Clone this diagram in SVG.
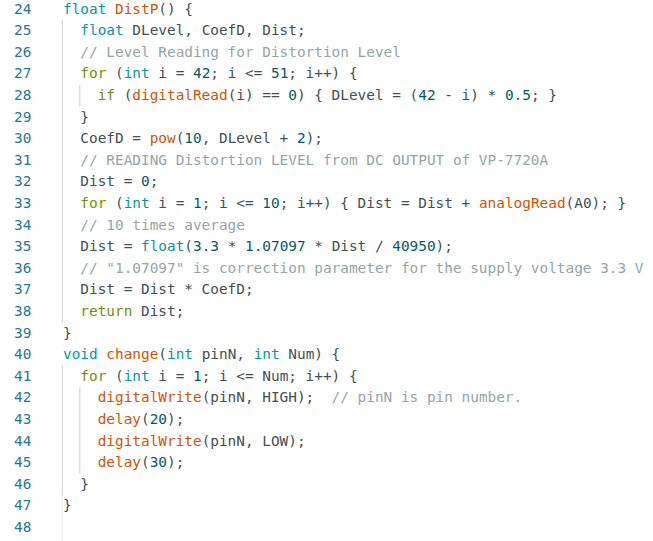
<svg xmlns="http://www.w3.org/2000/svg" width="653" height="541" viewBox="0 0 653 541">
<style>
text{font-family:"DejaVu Sans Mono","Liberation Mono",monospace;font-size:14.4px;fill:#434F54;white-space:pre}
.ln{fill:#237893}
.t{fill:#00979D}
.c{fill:#728E00}
.f{fill:#D35400}
.n{fill:#005C5F}
.m{fill:#95A5A6}
.g{stroke:#D6D6D6;stroke-width:1.2}
</style>
<rect width="653" height="541" fill="#FFFFFF"/>
<g id="guides">
<line class="g" x1="62.3" y1="20" x2="62.3" y2="322.4"/>
<line class="g" x1="79.8" y1="84.8" x2="79.8" y2="106.4"/>
<line class="g" x1="62.3" y1="365.6" x2="62.3" y2="495.2"/>
<line class="g" x1="79.8" y1="387.2" x2="79.8" y2="473.6"/>
<line x1="62.3" y1="495.2" x2="62.3" y2="541" stroke="#EFEFEF" stroke-width="1"/>
</g>
<g id="line-numbers" xml:space="preserve">
<text class="ln" x="14" y="13.5">24</text>
<text class="ln" x="14" y="35.1">25</text>
<text class="ln" x="14" y="56.7">26</text>
<text class="ln" x="14" y="78.3">27</text>
<text class="ln" x="14" y="99.9">28</text>
<text class="ln" x="14" y="121.5">29</text>
<text class="ln" x="14" y="143.1">30</text>
<text class="ln" x="14" y="164.7">31</text>
<text class="ln" x="14" y="186.3">32</text>
<text class="ln" x="14" y="207.9">33</text>
<text class="ln" x="14" y="229.5">34</text>
<text class="ln" x="14" y="251.1">35</text>
<text class="ln" x="14" y="272.7">36</text>
<text class="ln" x="14" y="294.3">37</text>
<text class="ln" x="14" y="315.9">38</text>
<text class="ln" x="14" y="337.5">39</text>
<text class="ln" x="14" y="359.1">40</text>
<text class="ln" x="14" y="380.7">41</text>
<text class="ln" x="14" y="402.3">42</text>
<text class="ln" x="14" y="423.9">43</text>
<text class="ln" x="14" y="445.5">44</text>
<text class="ln" x="14" y="467.1">45</text>
<text class="ln" x="14" y="488.7">46</text>
<text class="ln" x="14" y="510.3">47</text>
<text class="ln" x="14" y="531.9">48</text>
</g>
<g id="code" xml:space="preserve">
<text x="63" y="13.5"><tspan class="t">float</tspan> <tspan class="f">DistP</tspan>() {</text>
<text x="63" y="35.1">  <tspan class="t">float</tspan> DLevel, CoefD, Dist;</text>
<text x="63" y="56.7" class="m">  // Level Reading for Distortion Level</text>
<text x="63" y="78.3">  <tspan class="c">for</tspan> (<tspan class="t">int</tspan> i = <tspan class="n">42</tspan>; i &lt;= <tspan class="n">51</tspan>; i++) {</text>
<text x="63" y="99.9">    <tspan class="c">if</tspan> (<tspan class="f">digitalRead</tspan>(i) == <tspan class="n">0</tspan>) { DLevel = (<tspan class="n">42</tspan> - i) * <tspan class="n">0.5</tspan>; }</text>
<text x="63" y="121.5">  }</text>
<text x="63" y="143.1">  CoefD = <tspan class="f">pow</tspan>(<tspan class="n">10</tspan>, DLevel + <tspan class="n">2</tspan>);</text>
<text x="63" y="164.7" class="m">  // READING Distortion LEVEL from DC OUTPUT of VP-7720A</text>
<text x="63" y="186.3">  Dist = <tspan class="n">0</tspan>;</text>
<text x="63" y="207.9">  <tspan class="c">for</tspan> (<tspan class="t">int</tspan> i = <tspan class="n">1</tspan>; i &lt;= <tspan class="n">10</tspan>; i++) { Dist = Dist + <tspan class="f">analogRead</tspan>(A0); }</text>
<text x="63" y="229.5" class="m">  // 10 times average</text>
<text x="63" y="251.1">  Dist = <tspan class="t">float</tspan>(<tspan class="n">3.3</tspan> * <tspan class="n">1.07097</tspan> * Dist / <tspan class="n">40950</tspan>);</text>
<text x="63" y="272.7" class="m">  // "1.07097" is correction parameter for the supply voltage 3.3 V</text>
<text x="63" y="294.3">  Dist = Dist * CoefD;</text>
<text x="63" y="315.9">  <tspan class="c">return</tspan> Dist;</text>
<text x="63" y="337.5">}</text>
<text x="63" y="359.1"><tspan class="t">void</tspan> <tspan class="f">change</tspan>(<tspan class="t">int</tspan> pinN, <tspan class="t">int</tspan> Num) {</text>
<text x="63" y="380.7">  <tspan class="c">for</tspan> (<tspan class="t">int</tspan> i = <tspan class="n">1</tspan>; i &lt;= Num; i++) {</text>
<text x="63" y="402.3">    <tspan class="f">digitalWrite</tspan>(pinN, HIGH);  <tspan class="m">// pinN is pin number.</tspan></text>
<text x="63" y="423.9">    <tspan class="f">delay</tspan>(<tspan class="n">20</tspan>);</text>
<text x="63" y="445.5">    <tspan class="f">digitalWrite</tspan>(pinN, LOW);</text>
<text x="63" y="467.1">    <tspan class="f">delay</tspan>(<tspan class="n">30</tspan>);</text>
<text x="63" y="488.7">  }</text>
<text x="63" y="510.3">}</text>
</g>
</svg>
